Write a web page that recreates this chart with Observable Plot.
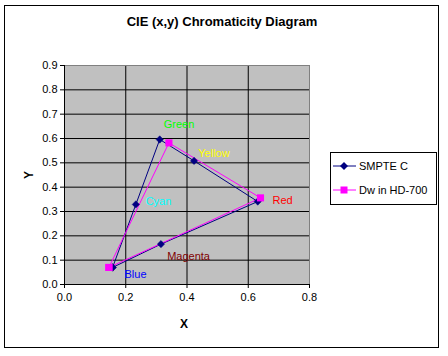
<!DOCTYPE html>
<html><head><meta charset="utf-8">
<script src="https://cdn.jsdelivr.net/npm/d3@7"></script>
<script src="https://cdn.jsdelivr.net/npm/@observablehq/plot@0.6"></script>
<style>
body{margin:0;background:#fff;font-family:Arial,"Liberation Sans",sans-serif;}
#wrap{position:relative;width:448px;height:356px;overflow:hidden;background:#fff;}
#border{position:absolute;left:4px;top:5px;width:435px;height:343px;border:1px solid #000;box-sizing:border-box;}
#plot{position:absolute;left:0;top:0;}
.lbl{position:absolute;color:#000;white-space:nowrap;}
#title{left:0;width:444px;top:14px;text-align:center;font-weight:bold;font-size:13px;}
#xl{left:180px;top:317px;font-weight:bold;font-size:12px;}
#yl{left:25px;top:168px;font-weight:bold;font-size:12px;transform:rotate(-90deg);}
#legend{position:absolute;left:330px;top:152px;width:107px;height:53px;border:1px solid #000;box-sizing:border-box;background:#fff;font-size:11px;}
#legend .row{position:absolute;left:2px;height:14px;display:flex;align-items:center;}
#legend svg{margin-right:3px;}
</style></head><body>
<div id="wrap">
  <div id="border"></div>
  <div id="plot"></div>
  <div id="title" class="lbl">CIE (x,y) Chromaticity Diagram</div>
  <div id="xl" class="lbl">X</div>
  <div id="yl" class="lbl">Y</div>
  <div id="legend"></div>
</div>
<script>
const seriesNames = ["SMPTE C", "Dw in HD-700"];
const seriesColors = ["#000080", "#ff00ff"];

const smpteNames = ["Blue", "Cyan", "Green", "Yellow", "Red", "Magenta", "Blue"];
const smpteX = [0.157, 0.233, 0.311, 0.423, 0.631, 0.315, 0.157];
const smpteY = [0.070, 0.329, 0.596, 0.508, 0.341, 0.166, 0.070];

const dwNames = ["Blue", "Green", "Red", "Blue"];
const dwX = [0.145, 0.341, 0.640, 0.145];
const dwY = [0.070, 0.582, 0.356, 0.070];

const labelNames = ["Green", "Yellow", "Red", "Cyan", "Magenta", "Blue"];
const labelX = [0.374, 0.488, 0.712, 0.307, 0.405, 0.232];
const labelY = [0.658, 0.540, 0.345, 0.341, 0.116, 0.041];
const labelColors = ["#00ff00", "#ffff00", "#ff0000", "#00ffff", "#800000", "#0000ff"];

const xTicks = [0, 0.2, 0.4, 0.6, 0.8];
const yTicks = [0, 0.1, 0.2, 0.3, 0.4, 0.5, 0.6, 0.7, 0.8, 0.9];
const xGrid = [0.2, 0.4, 0.6];
const yGrid = [0.1, 0.2, 0.3, 0.4, 0.5, 0.6, 0.7, 0.8];

const smpte = smpteX.map((x, i) => ({x, y: smpteY[i], name: smpteNames[i]}));
const dw = dwX.map((x, i) => ({x, y: dwY[i], name: dwNames[i]}));
const labels = labelNames.map((t, i) => ({t, x: labelX[i], y: labelY[i], c: labelColors[i]}));

const chart = Plot.plot({
  width: 448, height: 356,
  marginLeft: 64, marginRight: 139, marginTop: 65, marginBottom: 72,
  style: {fontFamily: "Arial, 'Liberation Sans', sans-serif", fontSize: "10px", color: "#000", background: "transparent", overflow: "visible"},
  x: {domain: [0, 0.8]},
  y: {domain: [0, 0.9]},
  marks: [
    Plot.frame({fill: "#c0c0c0"}),
    Plot.ruleX(xGrid, {stroke: "#000", strokeWidth: 1}),
    Plot.ruleY(yGrid, {stroke: "#000", strokeWidth: 1}),
    Plot.frame({stroke: "#808080"}),
    Plot.ruleX([0], {stroke: "#000"}),
    Plot.ruleY([0], {stroke: "#000"}),
    Plot.axisX({ticks: xTicks, tickSize: 4, tickPadding: 5, label: null, fontSize: 11}),
    Plot.axisY({ticks: yTicks, tickSize: 4, tickPadding: 3, label: null, fontSize: 11}),
    Plot.line(smpte, {x: "x", y: "y", stroke: seriesColors[0], strokeWidth: 1}),
    Plot.line(dw, {x: "x", y: "y", stroke: seriesColors[1], strokeWidth: 1}),
    Plot.dot(smpte, {x: "x", y: "y", symbol: "diamond2", r: 3.3, fill: seriesColors[0], stroke: seriesColors[0], strokeWidth: 0.5}),
    Plot.dot(dw, {x: "x", y: "y", symbol: "square", r: 4, fill: seriesColors[1], stroke: "none"}),
    Plot.text(labels, {x: "x", y: "y", text: "t", fill: "c", fontSize: 11})
  ]
});
document.getElementById("plot").appendChild(chart);

// legend
const legend = document.getElementById("legend");
seriesNames.forEach((name, i) => {
  const row = document.createElement("div");
  row.className = "row";
  row.style.top = (i === 0 ? 6 : 30) + "px";
  const marker = i === 0
    ? `<path d="M11,3 L15,7 L11,11 L7,7 Z" fill="${seriesColors[i]}"/>`
    : `<rect x="7.5" y="3.5" width="7" height="7" fill="${seriesColors[i]}"/>`;
  row.innerHTML = `<svg width="23" height="14"><line x1="0" x2="23" y1="7" y2="7" stroke="${seriesColors[i]}" stroke-width="1"/>${marker}</svg><span>${name}</span>`;
  legend.appendChild(row);
});
</script>
</body></html>
